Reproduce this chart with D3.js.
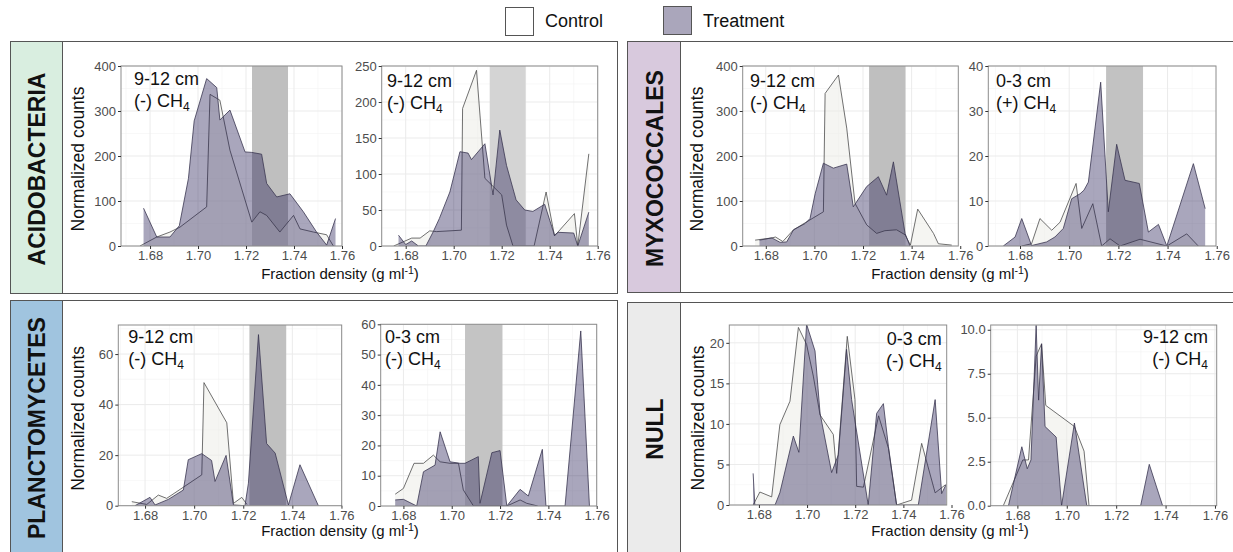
<!DOCTYPE html>
<html>
<head>
<meta charset="utf-8">
<script src="https://cdn.jsdelivr.net/npm/d3@7"></script>
<style>
  body { margin: 0; background: #fff; }
  svg { display: block; font-family: "Liberation Sans", Arial, sans-serif; }
</style>
</head>
<body>
<svg id="fig"></svg>
<script>
const W = 1233, H = 552;

// ---- data: [fraction density, normalized counts] ----
const acidoDeepCtrl = [[1.6758,0],[1.6828,20],[1.6883,31],[1.6925,42],[1.7036,87],[1.705,337],[1.7091,324],[1.7133,213],[1.7224,53],[1.7258,76],[1.7286,68],[1.7341,31],[1.7398,68],[1.7425,38],[1.7481,31],[1.7536,25],[1.7564,0]];
const acidoDeepTrt = [[1.6773,84],[1.6828,20],[1.6883,20],[1.6922,45],[1.696,150],[1.6984,278],[1.7036,372],[1.7078,352],[1.7091,280],[1.7133,302],[1.7196,209],[1.7224,208],[1.7265,204],[1.7286,139],[1.7328,109],[1.7383,116],[1.7439,76],[1.7494,31],[1.7536,2],[1.7573,61]];
const acidoDeep2Ctrl = [[1.675,0],[1.6825,11],[1.686,11],[1.69,21],[1.6929,20],[1.7032,22],[1.7037,191],[1.7095,244],[1.713,94],[1.72,71],[1.722,29],[1.7247,0],[1.7335,0],[1.7385,75],[1.742,14],[1.7503,45],[1.7517,0],[1.7563,128]];
const acidoDeep2Trt = [[1.677,15],[1.68,2],[1.6825,7],[1.6853,0],[1.6884,0],[1.6915,20],[1.694,38],[1.6984,75],[1.7026,131],[1.706,129],[1.7074,120],[1.713,142],[1.7164,71],[1.7192,161],[1.722,112],[1.726,64],[1.7296,50],[1.733,48],[1.7379,58],[1.742,15],[1.7435,19],[1.75,18],[1.7517,0],[1.7563,47]];
const myxoDeepCtrl = [[1.6756,13],[1.6825,18],[1.684,20],[1.687,10],[1.6914,36],[1.7037,76],[1.7044,339],[1.7099,380],[1.7133,262],[1.7167,95],[1.7215,47],[1.7256,28],[1.729,34],[1.7338,36],[1.7373,25],[1.7395,2],[1.7425,82],[1.749,28],[1.751,5],[1.7565,2]];
const myxoDeepTrt = [[1.6774,13],[1.6825,18],[1.6859,8],[1.6886,9],[1.6914,36],[1.6962,50],[1.6982,61],[1.7003,116],[1.7037,184],[1.7078,173],[1.7133,182],[1.716,87],[1.7215,132],[1.7263,154],[1.7297,113],[1.7325,187],[1.7373,28],[1.7393,0]];
const myxoSurfCtrl = [[1.6807,0],[1.6847,0.5],[1.6881,6.1],[1.6929,3.5],[1.6963,5.3],[1.7028,13.9],[1.7051,3.9],[1.7096,9.4],[1.7132,0],[1.7166,1.6],[1.7207,0],[1.7288,1.5],[1.7397,0],[1.7478,2.7],[1.7525,0]];
const myxoSurfTrt = [[1.6732,0],[1.678,2.0],[1.6807,6.1],[1.6847,0.1],[1.6908,0.9],[1.6942,2],[1.6976,3.9],[1.701,10.5],[1.7044,11.6],[1.706,12.4],[1.7078,14.2],[1.7128,36.4],[1.7159,7.6],[1.7193,22.6],[1.7227,14.6],[1.7285,13.9],[1.7322,3.1],[1.7363,4.8],[1.7397,0],[1.7505,18.3],[1.7553,8.3]];
const planctoDeepCtrl = [[1.6746,1.6],[1.6807,0.5],[1.6854,4.2],[1.6888,2.9],[1.7031,12.2],[1.704,48.7],[1.7133,32.8],[1.716,0.9],[1.7194,3.3],[1.7215,0.5]];
const planctoDeepTrt = [[1.6759,0],[1.682,3.3],[1.6841,0.3],[1.6895,2.5],[1.6956,6.2],[1.6976,18.2],[1.7031,20.6],[1.7071,17.9],[1.7085,9.6],[1.713,19.9],[1.716,0.3],[1.7207,0],[1.7221,8.9],[1.7262,67.7],[1.7295,24.6],[1.733,20.8],[1.7384,0.3],[1.7431,16.2],[1.7506,0]];
const planctoSurfCtrl = [[1.6766,3.9],[1.68,5.8],[1.6844,14.1],[1.6883,14.1],[1.6924,16.8],[1.6952,14.6],[1.6993,14.1],[1.7028,14.1],[1.7048,5.3],[1.709,0],[1.7228,0],[1.7283,2.0],[1.731,0.9],[1.7356,0]];
const planctoSurfTrt = [[1.6766,2],[1.68,2.2],[1.6855,0],[1.6883,11.3],[1.6931,13.5],[1.6952,24.5],[1.6993,14.6],[1.7034,14.1],[1.7055,14.1],[1.711,16.3],[1.7117,0.9],[1.7166,17.6],[1.72,18.3],[1.7228,0],[1.7283,5.5],[1.7317,3.3],[1.7375,18.7],[1.739,0],[1.7469,0],[1.7534,57.8],[1.757,0]];
const nullSurfCtrl = [[1.6776,0],[1.6804,1.6],[1.6853,1.0],[1.6887,9.9],[1.6929,12.8],[1.6964,21.9],[1.6998,19.8],[1.7026,15.9],[1.7054,11.1],[1.7109,8.7],[1.7123,3.9],[1.7167,20.8],[1.7199,13],[1.7206,2.3],[1.7234,2.2],[1.7297,11],[1.7338,7],[1.7372,0],[1.7434,0.6],[1.7476,7.6],[1.7532,1.5],[1.7575,2.5]];
const nullSurfTrt = [[1.6776,3.9],[1.6783,0],[1.6867,0],[1.6887,1.5],[1.6943,8.5],[1.6966,6.5],[1.6998,22.3],[1.7033,19],[1.7054,11.3],[1.7102,4.0],[1.713,6.2],[1.7164,19.2],[1.7185,13],[1.7254,0],[1.7289,11.3],[1.7317,12.5],[1.7338,7.2],[1.7372,0],[1.7462,0],[1.7532,13],[1.7559,1.4],[1.7577,2.5]];
const nullDeepCtrl = [[1.6743,0],[1.6822,2.6],[1.6845,2.6],[1.6876,8.5],[1.6898,9.2],[1.6915,5.7],[1.7031,4.5],[1.707,3.1],[1.709,0]];
const nullDeepTrt = [[1.6764,0],[1.6818,3.35],[1.684,2.1],[1.6855,2.6],[1.6876,10.25],[1.6886,6],[1.6898,9.2],[1.6912,4.5],[1.6957,3.9],[1.6979,0],[1.7031,4.7],[1.7081,0],[1.7299,0],[1.7334,2.35],[1.7388,0]];

const xTicks = [1.68, 1.70, 1.72, 1.74, 1.76];
const groups = ["ACIDOBACTERIA", "MYXOCOCCALES", "PLANCTOMYCETES", "NULL"];
const legendLabels = ["Control", "Treatment"];

// ---- layout ----
const boxes = [
  {name: groups[0], x: 10, y: 41, w: 607, h: 252, strip: 52, fill: "#d9eee0"},
  {name: groups[1], x: 627, y: 41, w: 620, h: 251, strip: 53, fill: "#d8c9dd"},
  {name: groups[2], x: 10, y: 300, w: 607, h: 270, strip: 52, fill: "#a0c4df"},
  {name: groups[3], x: 627, y: 302, w: 620, h: 270, strip: 53, fill: "#ebebeb"}
];

const panels = [
  {ctrl: acidoDeepCtrl, trt: acidoDeepTrt, r: [121, 342, 66, 246], xd: [1.6679, 1.76], ymax: 400, yt: [0,100,200,300,400], fmt: "d",
   depth: "9-12 cm", ch4: "(-)", tx: 134, ty: 85, anchor: "start", band: [1.7225, 1.7375], bandFill: "#bfbfbf", ylab: 78},
  {ctrl: acidoDeep2Ctrl, trt: acidoDeep2Trt, r: [381.7, 597.7, 66, 246], xd: [1.67, 1.76], ymax: 250, yt: [0,50,100,150,200,250], fmt: "d",
   depth: "9-12 cm", ch4: "(-)", tx: 387, ty: 86.5, anchor: "start", band: [1.715, 1.73], bandFill: "#d4d4d4"},
  {ctrl: myxoDeepCtrl, trt: myxoDeepTrt, r: [742.7, 958.3, 66, 246], xd: [1.6705, 1.7592], ymax: 400, yt: [0,100,200,300,400], fmt: "d",
   depth: "9-12 cm", ch4: "(-)", tx: 750, ty: 86.5, anchor: "start", band: [1.7225, 1.7375], bandFill: "#bfbfbf", ylab: 697},
  {ctrl: myxoSurfCtrl, trt: myxoSurfTrt, r: [988.3, 1216, 66, 246], xd: [1.6671, 1.7597], ymax: 40, yt: [0,10,20,30,40], fmt: "d",
   depth: "0-3 cm", ch4: "(+)", tx: 996, ty: 86.5, anchor: "start", band: [1.715, 1.73], bandFill: "#c2c2c2"},
  {ctrl: planctoDeepCtrl, trt: planctoDeepTrt, r: [118.3, 341.7, 325, 505.7], xd: [1.6691, 1.7601], ymax: 71.5, yt: [0,20,40,60], fmt: "d",
   depth: "9-12 cm", ch4: "(-)", tx: 128.3, ty: 343.3, anchor: "start", band: [1.7225, 1.7375], bandFill: "#c0c0c0", ylab: 78},
  {ctrl: planctoSurfCtrl, trt: planctoSurfTrt, r: [380.7, 596.7, 324.3, 506], xd: [1.6706, 1.76], ymax: 60, yt: [0,10,20,30,40,50,60], fmt: "d",
   depth: "0-3 cm", ch4: "(-)", tx: 385, ty: 343.3, anchor: "start", band: [1.7055, 1.721], bandFill: "#c4c4c4"},
  {ctrl: nullSurfCtrl, trt: nullSurfTrt, r: [729.3, 946.7, 325, 505], xd: [1.6677, 1.758], ymax: 22.2, yt: [0,5,10,15,20], fmt: "d",
   depth: "0-3 cm", ch4: "(-)", tx: 941.7, ty: 345, anchor: "end", band: null, ylab: 698},
  {ctrl: nullDeepCtrl, trt: nullDeepTrt, r: [990.7, 1216.7, 325, 505.7], xd: [1.6692, 1.7607], ymax: 10.27, yt: [0,2.5,5,7.5,10], fmt: ".1f",
   depth: "9-12 cm", ch4: "(-)", tx: 1208, ty: 343, anchor: "end", band: null}
];

const svg = d3.select("#fig").attr("width", W).attr("height", H);
svg.append("rect").attr("width", W).attr("height", H).attr("fill", "#fff");

// legend
const legend = svg.append("g");
[[505, 7, "#ffffff"], [663, 6, "#aaa6bb"]].forEach((d, i) => {
  legend.append("rect").attr("x", d[0] + 0.5).attr("y", d[1] + 0.5).attr("width", 28).attr("height", 28)
    .attr("fill", d[2]).attr("stroke", "#555").attr("stroke-width", 1);
  legend.append("text").attr("x", d[0] + 40).attr("y", 27).attr("font-size", 18).attr("fill", "#111")
    .text(legendLabels[i]);
});

// group boxes with strips
boxes.forEach(b => {
  const g = svg.append("g");
  g.append("rect").attr("x", b.x + 0.5).attr("y", b.y + 0.5).attr("width", b.strip).attr("height", b.h)
    .attr("fill", b.fill).attr("stroke", "#555");
  g.append("rect").attr("x", b.x + 0.5).attr("y", b.y + 0.5).attr("width", b.w).attr("height", b.h)
    .attr("fill", "none").attr("stroke", "#555");
  const cx = b.x + b.strip / 2 + 1, cy = b.y + Math.min(b.h, H - b.y) / 2 + 2;
  g.append("text").attr("transform", `translate(${cx},${cy}) rotate(-90)`)
    .attr("text-anchor", "middle").attr("dominant-baseline", "central")
    .attr("font-size", 23).attr("font-weight", "bold").attr("fill", "#111").text(b.name);
});

// axis titles
[[340, 279], [950, 279], [340, 536], [950, 536]].forEach(p => {
  const t = svg.append("text").attr("x", p[0]).attr("y", p[1]).attr("text-anchor", "middle")
    .attr("font-size", 15).attr("fill", "#111");
  t.append("tspan").text("Fraction density (g ml");
  t.append("tspan").attr("dy", -5).attr("font-size", 10.5).text("-1");
  t.append("tspan").attr("dy", 5).text(")");
});

panels.forEach(p => {
  const [x0, x1, y0, y1] = p.r;
  const x = d3.scaleLinear().domain(p.xd).range([x0, x1]);
  const y = d3.scaleLinear().domain([0, p.ymax]).range([y1, y0]);
  const g = svg.append("g");
  const clipId = "clip" + Math.round(x0);
  g.append("clipPath").attr("id", clipId).append("rect")
    .attr("x", x0).attr("y", y0).attr("width", x1 - x0).attr("height", y1 - y0);

  // grid
  const yStep = p.yt[1] - p.yt[0];
  const yMinor = d3.range(yStep / 2, p.ymax, yStep).filter(v => !p.yt.includes(v));
  const xMinor = d3.range(1.67, 1.761, 0.02).filter(v => v >= p.xd[0] && v <= p.xd[1]);
  g.selectAll(".xm").data(xMinor).join("line").attr("x1", d => x(d)).attr("x2", d => x(d))
    .attr("y1", y0).attr("y2", y1).attr("stroke", "#f4f4f4").attr("stroke-width", 0.6);
  g.selectAll(".ym").data(yMinor).join("line").attr("y1", d => y(d)).attr("y2", d => y(d))
    .attr("x1", x0).attr("x2", x1).attr("stroke", "#f4f4f4").attr("stroke-width", 0.6);
  g.selectAll(".xg").data(xTicks.filter(v => v <= p.xd[1])).join("line").attr("x1", d => x(d)).attr("x2", d => x(d))
    .attr("y1", y0).attr("y2", y1).attr("stroke", "#ebebeb").attr("stroke-width", 1);
  g.selectAll(".yg").data(p.yt).join("line").attr("y1", d => y(d)).attr("y2", d => y(d))
    .attr("x1", x0).attr("x2", x1).attr("stroke", "#ebebeb").attr("stroke-width", 1);

  const plot = g.append("g").attr("clip-path", `url(#${clipId})`);
  if (p.band) {
    plot.append("rect").attr("x", x(p.band[0])).attr("y", y0)
      .attr("width", x(p.band[1]) - x(p.band[0])).attr("height", y1 - y0).attr("fill", p.bandFill);
  }
  const area = d3.area().x(d => x(d[0])).y0(y(0)).y1(d => y(d[1]));
  const line = d3.line().x(d => x(d[0])).y(d => y(d[1]));
  plot.append("path").attr("d", area(p.ctrl)).attr("fill", "#ecece6").attr("fill-opacity", 0.5);
  plot.append("path").attr("d", line(p.ctrl)).attr("fill", "none").attr("stroke", "#4d4d4d").attr("stroke-width", 0.8);
  plot.append("path").attr("d", area(p.trt)).attr("fill", "rgb(30,20,80)").attr("fill-opacity", 0.38);
  plot.append("path").attr("d", line(p.trt)).attr("fill", "none").attr("stroke", "#3a3650").attr("stroke-width", 0.8);

  g.append("rect").attr("x", x0).attr("y", y0).attr("width", x1 - x0).attr("height", y1 - y0)
    .attr("fill", "none").attr("stroke", "#8c8c8c").attr("stroke-width", 1);

  // axes
  const xa = g.append("g").attr("transform", `translate(0,${y1})`)
    .call(d3.axisBottom(x).tickValues(xTicks).tickFormat(d3.format(".2f")).tickSize(3).tickPadding(2));
  const ya = g.append("g").attr("transform", `translate(${x0},0)`)
    .call(d3.axisLeft(y).tickValues(p.yt).tickFormat(d3.format(p.fmt)).tickSize(3).tickPadding(2));
  [xa, ya].forEach(a => {
    a.select(".domain").remove();
    a.selectAll("line").attr("stroke", "#333");
    a.selectAll("text").attr("font-size", 13).attr("fill", "#4d4d4d")
      .attr("font-family", "\"Liberation Sans\", Arial, sans-serif");
  });

  if (p.ylab) {
    g.append("text").attr("transform", `translate(${p.ylab + 6},${(y0 + y1) / 2 + 3}) rotate(-90)`)
      .attr("text-anchor", "middle").attr("font-size", 17.5).attr("fill", "#111").text("Normalized counts");
  }

  // annotation
  g.append("text").attr("x", p.tx).attr("y", p.ty).attr("text-anchor", p.anchor)
    .attr("font-size", 18).attr("fill", "#111").text(p.depth);
  const a2 = g.append("text").attr("x", p.tx).attr("y", p.ty + 22).attr("text-anchor", p.anchor)
    .attr("font-size", 18).attr("fill", "#111");
  a2.append("tspan").text(p.ch4 + " CH");
  a2.append("tspan").attr("dy", 4).attr("font-size", 12).text("4");
});
</script>
</body>
</html>
